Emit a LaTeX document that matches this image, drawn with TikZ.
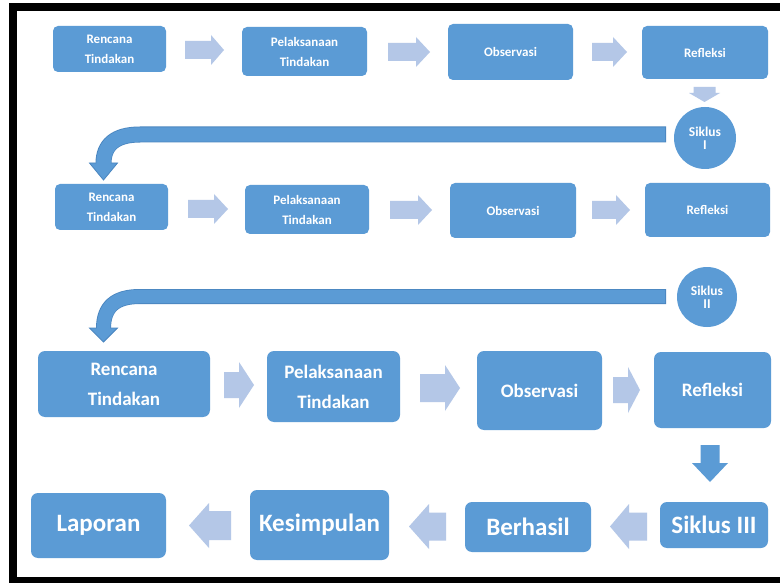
\documentclass[tikz,border=0pt]{standalone}
\usepackage{fontspec}
\setmainfont{Carlito}
\definecolor{boxblue}{HTML}{5B9BD5}
\definecolor{edgeblue}{HTML}{4A86C0}
\definecolor{lightblue}{HTML}{B4C7E7}
\tikzset{
 box/.style={fill=boxblue, rounded corners=5pt, inner sep=0pt, align=center, text=white, font=\bfseries\fontsize{13}{20}\selectfont},
 bigbox/.style={box, rounded corners=7pt, font=\bfseries\fontsize{19}{30}\selectfont},
 hugebox/.style={box, rounded corners=7pt, font=\bfseries\fontsize{25}{30}\selectfont},
 cyc/.style={circle, fill=boxblue, inner sep=0pt, align=center, text=white, font=\bfseries\fontsize{13.5}{13}\selectfont},
 larrow/.style={fill=lightblue},
 darrow/.style={fill=boxblue},
 frame/.style={fill=black},
}
\newcommand\rarr[7]{\fill[#1] (#2,{#5-#7}) -- (#4,{#5-#7}) -- (#4,{#5-#6}) -- (#3,#5) -- (#4,{#5+#6}) -- (#4,{#5+#7}) -- (#2,{#5+#7}) -- cycle;}
\newcommand\darr[7]{\fill[#1] ({#5-#7},#2) -- ({#5+#7},#2) -- ({#5+#7},#4) -- ({#5+#6},#4) -- (#5,#3) -- ({#5-#6},#4) -- ({#5-#7},#4) -- cycle;}
\begin{document}
\begin{tikzpicture}[x=1pt,y=-1pt]
\useasboundingbox (0,0) rectangle (780,583);
\fill[white] (0,0) rectangle (780,583);
% frame
\fill[frame] (9,3) rectangle (780,11);
\fill[frame] (9,3) rectangle (17,583);
\fill[frame] (9,577) rectangle (780,583);

% row 1
\node[box, minimum width=113pt, minimum height=46pt] (ren1) at (109.5,49) {Rencana\\Tindakan};
\node[box, minimum width=125pt, minimum height=49pt] (pel1) at (304.5,51.5) {Pelaksanaan\\Tindakan};
\node[box, minimum width=125pt, minimum height=56pt] (obs1) at (510.5,52) {Observasi};
\node[box, minimum width=126pt, minimum height=53pt] (ref1) at (705,52.5) {Refleksi};
\node[cyc, minimum size=62pt] (sik1) at (705,138) {Siklus\\I};
\rarr{larrow}{185}{224}{211}{50}{15}{9}
\rarr{larrow}{388}{430}{416}{52}{15}{9}
\rarr{larrow}{592}{627}{613}{52}{15}{9}
\darr{larrow}{87}{102}{93}{704.5}{15.5}{11}

% curved arrow 1
\coordinate (c1a) at (666,134.5);
\coordinate (c1b) at (140,134.5);
\coordinate (c1c) at (103.5,163.5);
\draw[edgeblue, line width=16pt] (c1a) -- (c1b) .. controls (115,134.5) and (103.5,145) .. (c1c);
\filldraw[fill=boxblue, draw=edgeblue, line width=0.8pt] (89.5,163) -- (117.5,163) -- (103.5,180) -- cycle;
\draw[boxblue, line width=14.4pt] (665.2,134.5) -- (c1b) .. controls (115,134.5) and (103.5,145) .. (103.5,164.5);

% row 2
\node[box, minimum width=113pt, minimum height=46pt] (ren2) at (111.5,207) {Rencana\\Tindakan};
\node[box, minimum width=124pt, minimum height=49pt] (pel2) at (307,209.5) {Pelaksanaan\\Tindakan};
\node[box, minimum width=126pt, minimum height=55pt] (obs2) at (513,210.5) {Observasi};
\node[box, minimum width=125pt, minimum height=54pt] (ref2) at (707.5,210) {Refleksi};
\node[cyc, minimum size=60pt] (sik2) at (707,297) {Siklus\\II};
\rarr{larrow}{188}{228}{214}{209}{15}{9}
\rarr{larrow}{390}{432}{418}{210}{15}{9}
\rarr{larrow}{592}{630}{616}{210}{15}{9}

% curved arrow 2
\coordinate (c2a) at (666,296.5);
\coordinate (c2b) at (140,296.5);
\coordinate (c2c) at (103.5,328.5);
\draw[edgeblue, line width=15pt] (c2a) -- (c2b) .. controls (115,296.5) and (103.5,307) .. (c2c);
\filldraw[fill=boxblue, draw=edgeblue, line width=0.8pt] (89.5,328) -- (117.5,328) -- (103.5,342) -- cycle;
\draw[boxblue, line width=13.4pt] (665.2,296.5) -- (c2b) .. controls (115,296.5) and (103.5,307) .. (103.5,329.5);

% row 3
\node[bigbox, minimum width=172pt, minimum height=66pt] (ren3) at (124,384) {Rencana\\Tindakan};
\node[bigbox, minimum width=133pt, minimum height=71pt] (pel3) at (333.5,386.5) {Pelaksanaan\\Tindakan};
\node[bigbox, minimum width=125pt, minimum height=79pt] (obs3) at (539.5,390.5) {Observasi};
\node[bigbox, minimum width=117pt, minimum height=76pt] (ref3) at (712.5,390) {Refleksi};
\rarr{larrow}{224}{254}{239}{385}{23}{13}
\rarr{larrow}{420}{460}{445}{388}{23}{14}
\rarr{larrow}{613}{640}{628}{390}{23}{13}
\darr{darrow}{445}{482}{463}{710}{18}{9.5}

% row 4
\node[hugebox, minimum width=135pt, minimum height=65pt] (lap) at (98.5,525.5) {Laporan};
\node[hugebox, minimum width=139pt, minimum height=70pt] (kes) at (319.5,525) {Kesimpulan};
\node[hugebox, minimum width=126pt, minimum height=50pt] (ber) at (528,527) {Berhasil};
\node[hugebox, minimum width=108pt, minimum height=46pt] (sik3) at (714,525) {Siklus III};
\rarr{larrow}{231}{189}{209}{525.5}{22.5}{14.5}
\rarr{larrow}{446}{409}{429}{526.5}{22.5}{14}
\rarr{larrow}{647}{610}{629}{526.5}{22.5}{14}
\end{tikzpicture}
\end{document}
